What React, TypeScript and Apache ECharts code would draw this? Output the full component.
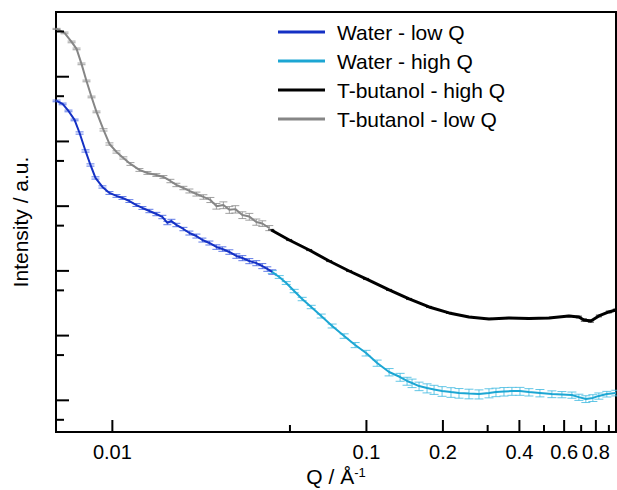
import React, { useEffect, useRef } from 'react';
import * as echarts from 'echarts';

const FONT = '"Liberation Sans", Arial, Helvetica, sans-serif';

// Water - low Q
const qWaterLow = [0.00603, 0.00637, 0.00672, 0.0071, 0.00743, 0.00784, 0.0082, 0.00858, 0.00914, 0.00974, 0.01038, 0.01096, 0.01167, 0.01244, 0.01313, 0.01399, 0.0149, 0.01573, 0.01646, 0.01708, 0.01786, 0.01904, 0.0201, 0.02142, 0.02261, 0.02409, 0.02567, 0.0271, 0.02887, 0.03076, 0.03248, 0.0346, 0.03686, 0.03891, 0.04072, 0.0426];
const iWaterLow = [42300, 38000, 29600, 21500, 13500, 7130, 4330, 2730, 1980, 1600, 1440, 1340, 1200, 1040, 938, 843, 757, 681, 550, 591, 512, 444, 385, 346, 300, 270, 234, 218, 196, 170, 158, 142, 132, 119, 107, 96.2];
const eWaterLow = [3, 3, 3, 3, 4, 4, 4, 4, 4, 5, 5, 5, 5, 5, 5, 6, 6, 6, 6, 6, 6, 6, 7, 7, 7, 7, 8, 8, 8, 8, 9, 9, 9, 9, 8, 8];

// Water - high Q
const qWaterHigh = [0.0426, 0.04537, 0.04835, 0.05195, 0.05586, 0.06062, 0.06638, 0.0733, 0.08172, 0.09028, 0.0997, 0.1102, 0.1228, 0.1357, 0.1445, 0.1512, 0.1611, 0.1732, 0.1846, 0.1985, 0.2152, 0.2314, 0.2533, 0.2773, 0.3036, 0.3235, 0.3478, 0.3738, 0.4021, 0.4361, 0.4818, 0.537, 0.588, 0.6437, 0.6858, 0.7305, 0.7784, 0.8218, 0.8835, 0.9584];
const iWaterHigh = [96.2, 80.5, 65.0, 48.9, 36.8, 27.7, 20.1, 14.1, 9.86, 7.16, 5.38, 3.77, 2.74, 2.29, 1.99, 1.85, 1.66, 1.55, 1.47, 1.39, 1.34, 1.3, 1.27, 1.25, 1.3, 1.34, 1.37, 1.39, 1.39, 1.34, 1.3, 1.25, 1.23, 1.21, 1.12, 1.05, 1.09, 1.17, 1.25, 1.3];
const eWaterHigh = [5, 5, 5, 6, 6, 6, 7, 7, 8, 9, 10, 11, 13, 14, 14, 15, 15, 16, 16, 17, 17, 17, 17, 16, 16, 15, 15, 14, 14, 13, 13, 12, 11, 11, 11, 12, 12, 11, 10, 10];

// T-butanol - high Q
const qButHigh = [0.04221, 0.04966, 0.05953, 0.07135, 0.0855, 0.0997, 0.1228, 0.1472, 0.1764, 0.2114, 0.2533, 0.3036, 0.3638, 0.4361, 0.5226, 0.6264, 0.6858, 0.7173, 0.7645, 0.8218, 0.8995, 0.9584];
const iButHigh = [429, 300, 210, 142, 99.6, 75.0, 50.7, 36.8, 27.7, 22.4, 19.4, 18.1, 18.7, 18.4, 18.7, 20.1, 19.4, 17.4, 16.8, 20.1, 23.2, 24.9];
const eButHigh = [2, 2, 2, 2, 2, 2, 2, 2, 2, 2, 2, 2, 2, 2, 2, 2, 3, 4, 4, 3, 3, 3];

// T-butanol - low Q
const qButLow = [0.00603, 0.00648, 0.00691, 0.00723, 0.00756, 0.00791, 0.00828, 0.00866, 0.00923, 0.00974, 0.01038, 0.01105, 0.01178, 0.01278, 0.01374, 0.0149, 0.01588, 0.01692, 0.01786, 0.01904, 0.0201, 0.02142, 0.02282, 0.02431, 0.02567, 0.02735, 0.02887, 0.03048, 0.03248, 0.0346, 0.03686, 0.03891, 0.04146];
const iButLow = [548000, 475000, 345000, 269000, 158000, 86100, 48700, 28600, 15100, 9140, 6880, 5560, 4490, 3630, 3260, 3030, 2830, 2450, 2130, 1910, 1720, 1540, 1390, 1250, 1000, 1040, 880, 900, 731, 690, 570, 540, 460];
const eButLow = [2, 3, 3, 3, 3, 3, 3, 3, 4, 4, 4, 4, 5, 5, 5, 5, 5, 6, 6, 6, 7, 7, 8, 9, 10, 12, 12, 13, 12, 12, 11, 10, 9];

const seriesNames = ['Water - low Q', 'Water - high Q', 'T-butanol - high Q', 'T-butanol - low Q'];
const seriesColors = ['#1430c4', '#1ca6d3', '#000000', '#868686'];

const xTickValues = [0.01, 0.05, 0.1, 0.2, 0.3, 0.4, 0.5, 0.6, 0.7, 0.8, 0.9];
const xTickLabels = ['0.01', '', '0.1', '0.2', '', '0.4', '', '0.6', '', '0.8', ''];
const xTickMajor = [1, 0, 1, 1, 0, 1, 0, 1, 0, 1, 0];
const yTickValues = [0.5, 1, 5, 10, 50, 100, 500, 1000, 5000, 10000, 50000, 100000, 500000];
const yTickMajor = [0, 1, 0, 1, 0, 1, 0, 1, 0, 1, 0, 1, 0];

function lineSeries(name: string, q: number[], v: number[], color: string, width: number, z: number) {
  return {
    type: 'line',
    name,
    data: q.map((x, k) => [x, v[k]]),
    symbol: 'none',
    showSymbol: false,
    color,
    lineStyle: { color, width },
    z,
  };
}

function errSeries(name: string, q: number[], v: number[], e: number[], color: string, capW: number, z: number) {
  return {
    type: 'custom',
    name: name + ' (err)',
    silent: true,
    z,
    encode: { x: 0, y: [1, 2] },
    data: q.map((x, k) => [x, v[k] * (1 - e[k] / 100), v[k] * (1 + e[k] / 100)]),
    renderItem: (params: any, api: any) => {
      const x = api.value(0);
      const a = api.coord([x, api.value(2)]);
      const b = api.coord([x, api.value(1)]);
      const w = capW / 2;
      const style = { stroke: color, lineWidth: 1, opacity: 0.8 };
      return {
        type: 'group',
        children: [
          { type: 'line', shape: { x1: a[0], y1: a[1], x2: b[0], y2: b[1] }, style },
          { type: 'line', shape: { x1: a[0] - w, y1: a[1], x2: a[0] + w, y2: a[1] }, style },
          { type: 'line', shape: { x1: b[0] - w, y1: b[1], x2: b[0] + w, y2: b[1] }, style },
        ],
      };
    },
  };
}

export default function App() {
  const ref = useRef<HTMLDivElement>(null);
  useEffect(() => {
    if (!ref.current) return;
    const chart = echarts.init(ref.current, null, { renderer: 'svg' });
    const option: any = {
      animation: false,
      textStyle: { fontFamily: FONT },
      grid: {
        left: 56, right: 1, top: 12, bottom: 58,
        containLabel: false,
        outerBoundsMode: 'none',
        show: true, borderColor: '#000', borderWidth: 2, backgroundColor: 'transparent',
      },
      legend: {
        data: seriesNames,
        orient: 'vertical',
        left: 278,
        top: 17.5,
        padding: 0,
        itemGap: 0,
        itemWidth: 47,
        itemHeight: 3,
        icon: 'rect',
        selectedMode: false,
        textStyle: { fontSize: 21, color: '#000', fontFamily: FONT, lineHeight: 29, padding: [0, 0, 0, 7] },
      },
      xAxis: {
        type: 'log',
        logBase: 10,
        min: 0.006,
        max: 0.96,
        name: '{a|Q / Å}{b|-1}',
        nameLocation: 'middle',
        nameGap: 34,
        nameTextStyle: {
          lineHeight: 21,
          rich: {
            a: { fontSize: 21, lineHeight: 21, color: '#000', fontFamily: FONT },
            b: { fontSize: 13, lineHeight: 13, color: '#000', fontFamily: FONT, padding: [0, 0, 9, 0] },
          },
        },
        axisLine: { onZero: false, lineStyle: { color: '#000', width: 2 } },
        axisTick: { show: false },
        axisLabel: { show: false },
        splitLine: { show: false },
        minorTick: { show: false },
      },
      yAxis: {
        type: 'log',
        logBase: 10,
        min: 0.324,
        max: 1000000,
        name: 'Intensity / a.u.',
        nameLocation: 'middle',
        nameGap: 25,
        nameTextStyle: { fontSize: 21, color: '#000', fontFamily: FONT },
        axisLine: { onZero: false, lineStyle: { color: '#000', width: 2 } },
        axisTick: { show: false },
        axisLabel: { show: false },
        splitLine: { show: false },
      },
      series: [
        errSeries(seriesNames[0], qWaterLow, iWaterLow, eWaterLow, '#3a5ae0', 8, 2),
        errSeries(seriesNames[1], qWaterHigh, iWaterHigh, eWaterHigh, '#3cb8e0', 9, 2),
        errSeries(seriesNames[2], qButHigh, iButHigh, eButHigh, '#000000', 6, 2),
        errSeries(seriesNames[3], qButLow, iButLow, eButLow, '#8a8a8a', 8, 2),
        lineSeries(seriesNames[0], qWaterLow, iWaterLow, seriesColors[0], 2, 3),
        lineSeries(seriesNames[1], qWaterHigh, iWaterHigh, seriesColors[1], 2, 3),
        lineSeries(seriesNames[2], qButHigh, iButHigh, seriesColors[2], 3, 3),
        lineSeries(seriesNames[3], qButLow, iButLow, seriesColors[3], 2, 3),
        {
          type: 'custom',
          name: 'xticks',
          silent: true,
          clip: false,
          z: 5,
          data: xTickValues.map((v, k) => [v, 1, k]),
          renderItem: (params: any, api: any) => {
            const k = api.value(2);
            const px = api.coord([api.value(0), 1])[0];
            const bottom = params.coordSys.y + params.coordSys.height;
            const len = xTickMajor[k] ? 12 : 7;
            const children: any[] = [
              { type: 'line', shape: { x1: px, y1: bottom, x2: px, y2: bottom - len }, style: { stroke: '#000', lineWidth: 2 } },
            ];
            if (xTickLabels[k]) {
              children.push({
                type: 'text',
                x: px,
                y: bottom + 20,
                style: { text: xTickLabels[k], fontSize: 20, fontFamily: FONT, fill: '#000', align: 'center', verticalAlign: 'middle' },
              });
            }
            return { type: 'group', children };
          },
        },
        {
          type: 'custom',
          name: 'yticks',
          silent: true,
          clip: false,
          z: 5,
          data: yTickValues.map((v, k) => [0.01, v, k]),
          renderItem: (params: any, api: any) => {
            const k = api.value(2);
            const py = api.coord([0.01, api.value(1)])[1];
            const left = params.coordSys.x;
            const len = yTickMajor[k] ? 13 : 8;
            return { type: 'line', shape: { x1: left, y1: py, x2: left + len, y2: py }, style: { stroke: '#000', lineWidth: 2 } };
          },
        },
      ],
    };
    chart.setOption(option);
    return () => chart.dispose();
  }, []);
  return <div ref={ref} style={{ position: 'fixed', left: 0, top: 0, width: 617, height: 490, background: '#fff' }} />;
}
